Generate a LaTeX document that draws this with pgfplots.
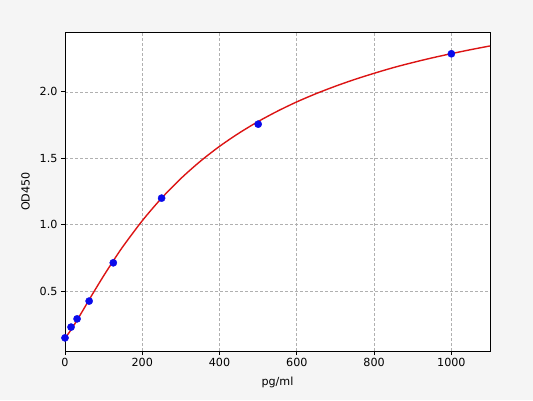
\documentclass[border=0pt]{standalone}
\usepackage{fontspec}
\setmainfont{DejaVu Sans}
\usepackage{pgfplots}
\pgfplotsset{compat=1.18}
\definecolor{bgray}{RGB}{245,245,245}
\definecolor{gridgray}{RGB}{176,176,176}
\definecolor{curvered}{RGB}{220,20,20}
\definecolor{dotblue}{RGB}{10,10,235}
\begin{document}
\begin{tikzpicture}[x=1bp,y=1bp]
\fill[bgray] (0,0) rectangle (533,400);
\path[use as bounding box] (0,0) rectangle (533,400);
\begin{axis}[
  at={(65bp,49bp)}, anchor=south west,
  width=425bp, height=319bp, scale only axis,
  xmin=0, xmax=1100, ymin=0.049, ymax=2.451,
  xtick={0,200,400,600,800,1000},
  ytick={0.5,1.0,1.5,2.0},
  xticklabel style={/pgf/number format/.cd,set thousands separator={}},
  yticklabel style={/pgf/number format/.cd,fixed,fixed zerofill,precision=1},
  /pgf/number format/assume math mode=true,
  scaled x ticks=false,
  grid=major,
  major grid style={gridgray, dash pattern=on 3bp off 2bp, line width=0.7bp},
  axis line style={black, line width=0.9bp},
  tick style={black, line width=0.9bp},
  tick align=outside, major tick length=4bp,
  xtick pos=bottom, ytick pos=left,
  axis background/.style={fill=white},
  ticklabel style={font=\fontsize{11.2}{13}\selectfont},
  label style={font=\fontsize{11.2}{13}\selectfont},
  xlabel={pg/ml}, ylabel={OD450},
  xlabel style={yshift=-3bp},
  ylabel style={yshift=3bp},
]
\addplot[curvered, line width=1.4bp, smooth] coordinates {
(0,0.150) (5,0.165) (10,0.185) (15.625,0.209) (20,0.229) (31.25,0.281)
(40,0.324) (50,0.373) (62.5,0.435) (75,0.496) (100,0.615) (125,0.728)
(150,0.836) (200,1.030) (250,1.200) (300,1.348) (350,1.477) (400,1.590)
(450,1.689) (500,1.777) (550,1.855) (600,1.925) (650,1.987) (700,2.043)
(750,2.094) (800,2.140) (850,2.183) (900,2.221) (950,2.256) (1000,2.288)
(1050,2.318) (1100,2.346)
};
\addplot[only marks, mark=*, mark size=3.6bp, dotblue, mark options={fill=dotblue, draw=dotblue}] coordinates {
(0,0.148) (15.625,0.229) (31.25,0.291) (62.5,0.425) (125,0.713) (250,1.200) (500,1.757) (1000,2.287)
};
\end{axis}
\end{tikzpicture}
\end{document}
